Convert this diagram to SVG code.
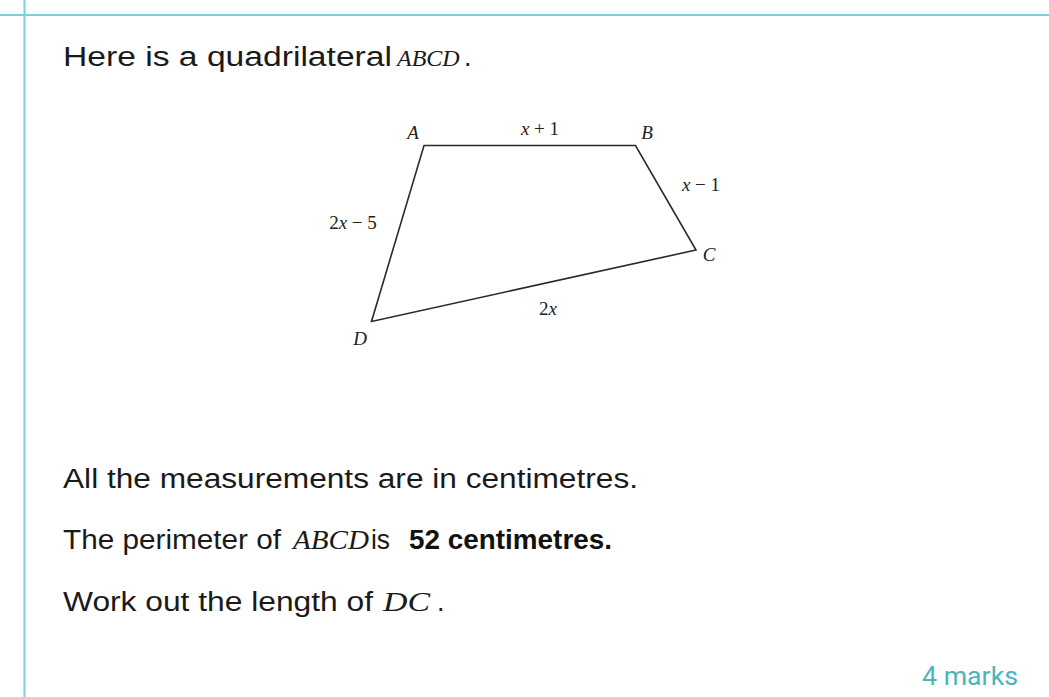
<svg xmlns="http://www.w3.org/2000/svg" width="1049" height="697" viewBox="0 0 1049 697">
<style>
.frame{stroke:#7ccfd6;stroke-width:2;fill:none}
.body{font-family:"Liberation Sans",Arial,sans-serif;font-size:27px;fill:#1a1a1a}
.math{font-family:"Liberation Serif","Times New Roman",serif;font-style:italic;font-size:28px;fill:#1a1a1a}
.bold{font-family:"Liberation Sans",Arial,sans-serif;font-weight:bold;font-size:27px;fill:#111}
.lbl{font-family:"Liberation Serif","Times New Roman",serif;font-size:19px;fill:#222}
.it{font-style:italic}
.marks{font-family:Roboto,"Liberation Sans",sans-serif;font-size:25px;fill:#4db3bd}
.shape{fill:none;stroke:#2a2a2a;stroke-width:1.6;stroke-linejoin:miter}
</style>
<rect width="1049" height="697" fill="#ffffff"/>
<g id="frame">
<line class="frame" x1="0" y1="15" x2="1049" y2="15"/>
<line class="frame" x1="24.5" y1="0" x2="24.5" y2="697"/>
</g>
<g id="line1">
<text class="body" y="66"><tspan x="63" textLength="329" lengthAdjust="spacingAndGlyphs">Here is a quadrilateral</tspan><tspan class="math" x="397" style="font-size:24px">ABCD</tspan><tspan x="464">.</tspan></text>
</g>
<g id="quadrilateral">
<polygon class="shape" points="424,145.5 635.5,145.5 696,250 371.5,321.5"/>
<text class="lbl it" x="413" y="139" text-anchor="middle">A</text>
<text class="lbl" x="540" y="135" text-anchor="middle"><tspan class="it">x</tspan> + 1</text>
<text class="lbl it" x="647" y="139" text-anchor="middle">B</text>
<text class="lbl" x="701" y="191" text-anchor="middle"><tspan class="it">x</tspan> − 1</text>
<text class="lbl" x="353" y="229" text-anchor="middle">2<tspan class="it">x</tspan> − 5</text>
<text class="lbl it" x="709" y="261" text-anchor="middle">C</text>
<text class="lbl" x="548" y="315" text-anchor="middle">2<tspan class="it">x</tspan></text>
<text class="lbl it" x="360" y="345" text-anchor="middle">D</text>
</g>
<g id="line2">
<text class="body" x="63" y="488" textLength="575" lengthAdjust="spacingAndGlyphs">All the measurements are in centimetres.</text>
</g>
<g id="line3">
<text class="body" y="549"><tspan x="63" textLength="218" lengthAdjust="spacingAndGlyphs">The perimeter of</tspan><tspan class="math" x="293" textLength="76" lengthAdjust="spacingAndGlyphs">ABCD</tspan><tspan x="371" textLength="19" lengthAdjust="spacingAndGlyphs">is</tspan><tspan class="bold" x="409" textLength="203" lengthAdjust="spacingAndGlyphs">52 centimetres.</tspan></text>
</g>
<g id="line4">
<text class="body" y="611"><tspan x="63" textLength="310" lengthAdjust="spacingAndGlyphs">Work out the length of</tspan><tspan class="math" x="383" textLength="47" lengthAdjust="spacingAndGlyphs">DC</tspan><tspan x="437">.</tspan></text>
</g>
<g id="marks">
<text class="marks" x="922" y="685" textLength="96" lengthAdjust="spacingAndGlyphs">4 marks</text>
</g>
</svg>
